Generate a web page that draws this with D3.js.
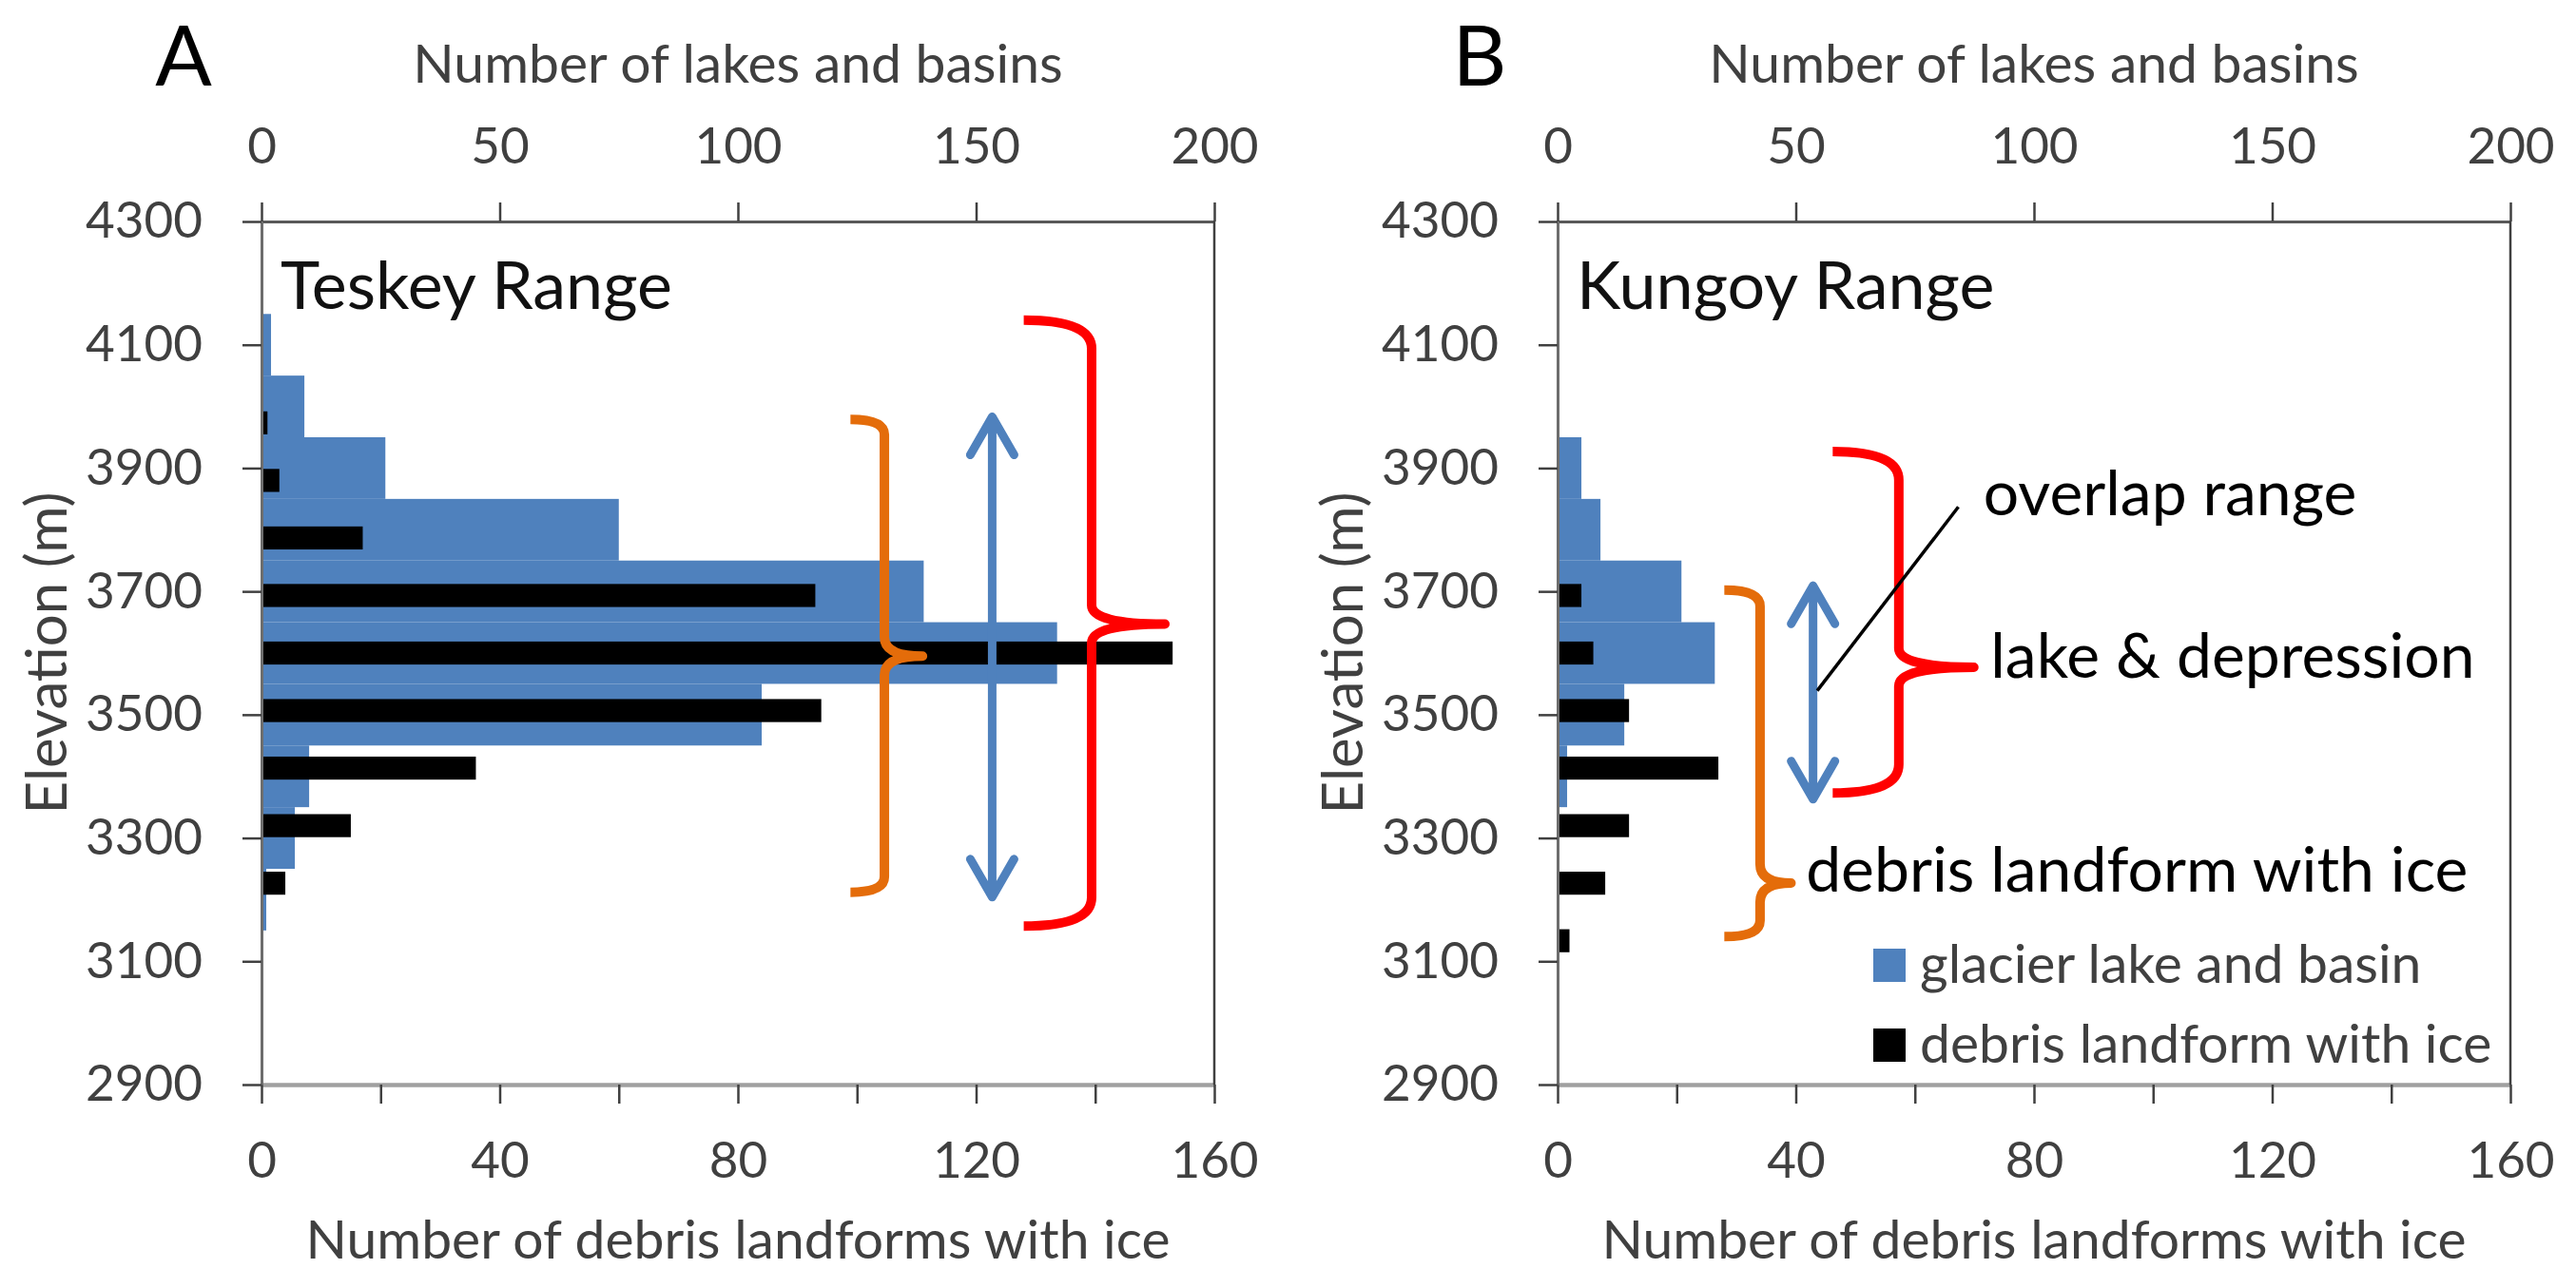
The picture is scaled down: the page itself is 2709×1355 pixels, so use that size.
<!DOCTYPE html>
<html>
<head>
<meta charset="utf-8">
<script src="https://cdn.jsdelivr.net/npm/d3@7"></script>
<style>
  body { margin: 0; background: #fff; }
  text { font-family: Lato, "Open Sans", sans-serif; }
</style>
</head>
<body>
<svg id="chart"></svg>
<script>
// elevation bins (m) for the lake / basin histogram, 100 m wide
var lakeBins = [3200, 3300, 3400, 3500, 3600, 3700, 3800, 3900, 4000, 4100];
var teskeyLakes = [1, 7, 10, 105, 167, 139, 75, 26, 9, 2];
var kungoyLakes = [0, 0, 2, 14, 33, 26, 9, 5, 0, 0];

// debris landform bins, drawn on the 15-slot category axis 2900..4300
var debrisBins = [3100, 3200, 3300, 3400, 3500, 3600, 3700, 3800, 3900, 4000];
var teskeyDebris = [0, 4, 15, 36, 94, 153, 93, 17, 3, 1];
var kungoyDebris = [2, 8, 12, 27, 12, 6, 4, 0, 0, 0];

var elevCats = d3.range(2900, 4301, 100);
var elevTicks = [2900, 3100, 3300, 3500, 3700, 3900, 4100, 4300];
var lakeTicks = [0, 50, 100, 150, 200];
var debrisTicks = [0, 20, 40, 60, 80, 100, 120, 140, 160];

// annotations, in (debris count, elevation) units
var teskeyBraces = [
  { color: "#e46c0a", x0: 98.9, x1: 104.6, x2: 111, top: 3979, tip: 3595, bottom: 3212 },
  { color: "#ff0000", x0: 128, x1: 139.4, x2: 151.7, top: 4140, tip: 3647, bottom: 3157 }
];
var teskeyArrow = { x: 122.7, top: 3983, bottom: 3204 };

var kungoyBraces = [
  { color: "#e46c0a", x0: 28, x1: 34, x2: 39.2, top: 3702, tip: 3227, bottom: 3140 },
  { color: "#ff0000", x0: 46.2, x1: 57.3, x2: 69.9, top: 3927, tip: 3577, bottom: 3373 }
];
var kungoyArrow = { x: 42.9, top: 3709, bottom: 3363 };
var kungoyPointer = [[67.3, 3837], [43.6, 3539]];
var kungoyLabels = [
  { text: "overlap range", x: 71.5, e: 3824 },
  { text: "lake & depression", x: 72.7, e: 3560 },
  { text: "debris landform with ice", x: 41.7, e: 3213 }
];
var legendItems = [
  { label: "glacier lake and basin", color: "#4f81bd" },
  { label: "debris landform with ice", color: "#000000" }
];

var width = 2709;
var height = 1355;
var plotTop = 233, plotBottom = 1141, plotW = 1002;

var svg = d3.select("#chart")
    .attr("width", width)
    .attr("height", height);

svg.append("rect").attr("width", width).attr("height", height).attr("fill", "#fff");

function bracePath(b, x, y) {
  var x0 = x(b.x0), x1 = x(b.x1), x2 = x(b.x2);
  var yt = y(b.top), ym = y(b.tip), yb = y(b.bottom);
  var r = Math.min(30, (x1 - x0) * 0.45);
  var rt = 20;
  return "M" + x0 + "," + yt +
    " Q" + x1 + "," + yt + " " + x1 + "," + (yt + r) +
    " L" + x1 + "," + (ym - rt) +
    " Q" + x1 + "," + ym + " " + x2 + "," + ym +
    " Q" + x1 + "," + ym + " " + x1 + "," + (ym + rt) +
    " L" + x1 + "," + (yb - r) +
    " Q" + x1 + "," + yb + " " + x0 + "," + yb;
}

function arrowPath(a, x, y) {
  var cx = x(a.x), yt = y(a.top), yb = y(a.bottom);
  var hw = 23, hh = 40;
  return "M" + cx + "," + yt + " L" + cx + "," + yb +
    " M" + (cx - hw) + "," + (yt + hh) + " L" + cx + "," + yt + " L" + (cx + hw) + "," + (yt + hh) +
    " M" + (cx - hw) + "," + (yb - hh) + " L" + cx + "," + yb + " L" + (cx + hw) + "," + (yb - hh);
}

function drawPanel(opt) {
  var left = opt.left, right = left + plotW;
  var g = svg.append("g");

  var xTop = d3.scaleLinear().domain([0, 200]).range([left, right]);
  var xBot = d3.scaleLinear().domain([0, 160]).range([left, right]);
  var yLin = d3.scaleLinear().domain([2900, 4300]).range([plotBottom, plotTop]);
  var yBand = d3.scaleBand()
      .domain(elevCats)
      .range([plotBottom, plotTop])
      .paddingInner(0.6)
      .paddingOuter(0.3);

  // blue histogram (top axis)
  g.append("g").selectAll("rect")
    .data(lakeBins.map(function(b, i) { return { bin: b, v: opt.lakes[i] }; }).filter(d => d.v > 0))
    .enter().append("rect")
      .attr("x", xTop(0))
      .attr("y", d => yLin(d.bin + 50))
      .attr("width", d => xTop(d.v) - xTop(0))
      .attr("height", d => yLin(d.bin - 50) - yLin(d.bin + 50))
      .attr("fill", "#4f81bd");

  // black bars (bottom axis)
  g.append("g").selectAll("rect")
    .data(debrisBins.map(function(b, i) { return { bin: b, v: opt.debris[i] }; }).filter(d => d.v > 0))
    .enter().append("rect")
      .attr("x", xBot(0))
      .attr("y", d => yBand(d.bin))
      .attr("width", d => xBot(d.v) - xBot(0))
      .attr("height", yBand.bandwidth())
      .attr("fill", "#000");

  // axes
  var topAxis = d3.axisTop(xTop).tickValues(lakeTicks).tickSizeInner(20).tickSizeOuter(0).tickPadding(41);
  var botAxis = d3.axisBottom(xBot).tickValues(debrisTicks)
      .tickFormat(d => d % 40 === 0 ? d : "")
      .tickSizeInner(20).tickSizeOuter(0).tickPadding(40);
  var leftAxis = d3.axisLeft(yLin).tickValues(elevTicks)
      .tickFormat(d3.format("d"))
      .tickSizeInner(20).tickSizeOuter(0).tickPadding(42);

  var gt = g.append("g").attr("transform", "translate(0," + plotTop + ")").call(topAxis);
  var gb = g.append("g").attr("transform", "translate(0," + plotBottom + ")").call(botAxis);
  var gl = g.append("g").attr("transform", "translate(" + left + ",0)").call(leftAxis);

  [gt, gb, gl].forEach(function(a) {
    a.selectAll("text").attr("font-size", 53).attr("fill", "#404040")
      .style("font-family", "Lato, sans-serif");
    a.selectAll(".tick line").attr("stroke", "#404040").attr("stroke-width", 2.5);
  });
  gt.select(".domain").attr("stroke", "#595959").attr("stroke-width", 3);
  gb.select(".domain").attr("stroke", "#a0a0a0").attr("stroke-width", 4.5);
  gl.select(".domain").attr("stroke", "#6d6d6d").attr("stroke-width", 3);

  // right border
  g.append("line")
    .attr("x1", right).attr("x2", right)
    .attr("y1", plotTop).attr("y2", plotBottom)
    .attr("stroke", "#404040").attr("stroke-width", 2.5);

  // axis titles
  g.append("text")
    .attr("x", (left + right) / 2).attr("y", 87)
    .attr("text-anchor", "middle").attr("font-size", 57).attr("fill", "#404040")
    .text("Number of lakes and basins");
  g.append("text")
    .attr("x", (left + right) / 2).attr("y", 1324)
    .attr("text-anchor", "middle").attr("font-size", 57).attr("fill", "#404040")
    .text("Number of debris landforms with ice");
  g.append("text")
    .attr("transform", "translate(" + (left - 205) + "," + ((plotTop + plotBottom) / 2) + ") rotate(-90)")
    .attr("text-anchor", "middle").attr("font-size", 60).attr("fill", "#404040")
    .text("Elevation (m)");

  // panel letter and range name
  g.append("text")
    .attr("x", left - 82).attr("y", 90)
    .attr("text-anchor", "middle").attr("font-size", 88).attr("fill", "#000")
    .text(opt.letter);
  g.append("text")
    .attr("x", left + 20).attr("y", 325)
    .attr("font-size", 70).attr("fill", "#111")
    .text(opt.name);

  // annotations
  var ann = g.append("g").attr("fill", "none");
  ann.selectAll("path.brace")
    .data(opt.braces)
    .enter().append("path")
      .attr("class", "brace")
      .attr("d", d => bracePath(d, xBot, yLin))
      .attr("stroke", d => d.color)
      .attr("stroke-width", 10)
      .attr("stroke-linejoin", "round");
  ann.append("path")
    .attr("d", arrowPath(opt.arrow, xBot, yLin))
    .attr("stroke", "#4f81bd")
    .attr("stroke-width", 9)
    .attr("stroke-linecap", "round")
    .attr("stroke-linejoin", "round");

  return { xBot: xBot, yLin: yLin, g: g, left: left };
}

drawPanel({
  left: 275, letter: "A", name: "Teskey Range",
  lakes: teskeyLakes, debris: teskeyDebris,
  braces: teskeyBraces, arrow: teskeyArrow
});

var pb = drawPanel({
  left: 1638, letter: "B", name: "Kungoy Range",
  lakes: kungoyLakes, debris: kungoyDebris,
  braces: kungoyBraces, arrow: kungoyArrow
});

// pointer line for "overlap range"
pb.g.append("line")
  .attr("x1", pb.xBot(kungoyPointer[0][0])).attr("y1", pb.yLin(kungoyPointer[0][1]))
  .attr("x2", pb.xBot(kungoyPointer[1][0])).attr("y2", pb.yLin(kungoyPointer[1][1]))
  .attr("stroke", "#000").attr("stroke-width", 3.5);

pb.g.selectAll("text.note")
  .data(kungoyLabels)
  .enter().append("text")
    .attr("class", "note")
    .attr("x", d => pb.xBot(d.x))
    .attr("y", d => pb.yLin(d.e))
    .attr("font-size", 66)
    .attr("fill", "#000")
    .text(d => d.text);

// legend
var legend = pb.g.append("g")
  .attr("transform", "translate(" + (pb.left + 332) + ",998)");
var li = legend.selectAll("g")
  .data(legendItems)
  .enter().append("g")
    .attr("transform", (d, i) => "translate(0," + (i * 84) + ")");
li.append("rect")
  .attr("width", 34).attr("height", 35)
  .attr("fill", d => d.color);
li.append("text")
  .attr("x", 49).attr("y", 36)
  .attr("font-size", 57).attr("fill", "#404040")
  .text(d => d.label);
</script>
</body>
</html>
